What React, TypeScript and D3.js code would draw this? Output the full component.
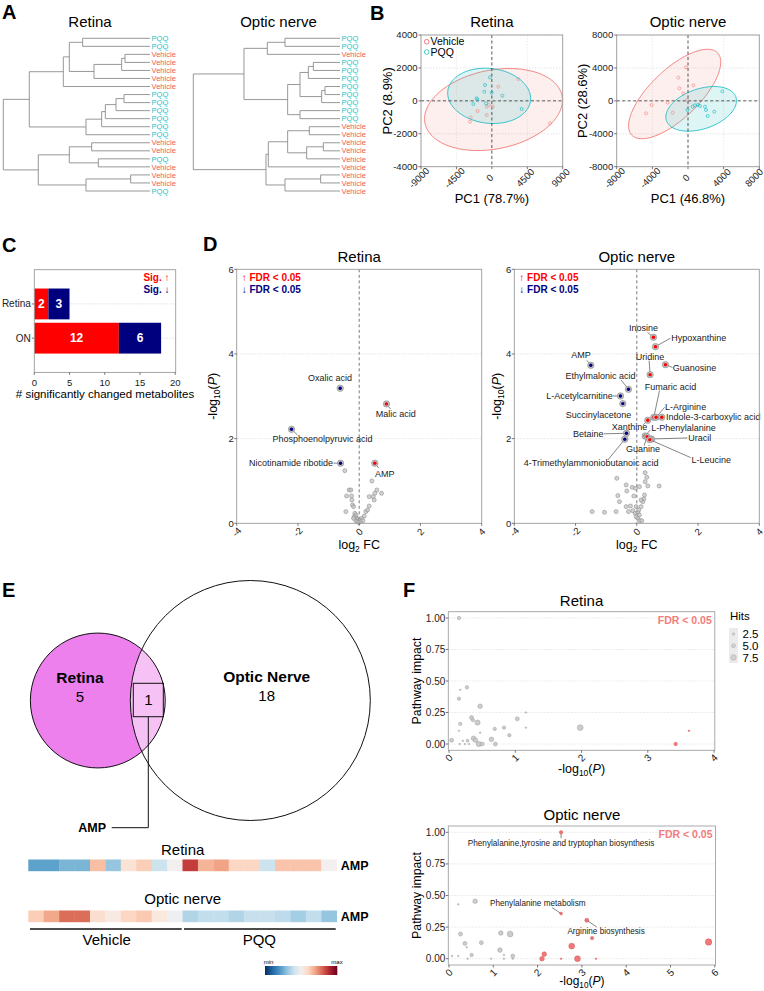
import React from "react";
import * as d3 from "d3";

const FONT = "'Liberation Sans', Arial, Helvetica, sans-serif";
const VEH = "#EE5A5A";
const PQQC = "#1FBFC6";
const UP = "#FF0000";
const DOWN = "#000080";

// ---------------- A: hierarchical clustering ----------------
const retinaLeaves = ["PQQ","PQQ","Vehicle","Vehicle","Vehicle","Vehicle","Vehicle","PQQ","PQQ","PQQ","PQQ","PQQ","PQQ","Vehicle","Vehicle","PQQ","Vehicle","Vehicle","Vehicle","PQQ"];
// [childA, childB, height]  (negative = leaf index+1, positive = merge number)
const retinaMerges = [
  [-3,-4,75],[1,-5,85],[2,-6,168],[-1,-2,202],[4,3,242],[5,-7,260],
  [-8,-9,78],[7,-10,102],[8,-11,134],[9,-12,145],[10,-13,192],[6,11,362],
  [-14,-15,175],[-16,-17,155],[13,14,242],[-18,-19,58],[16,-20,192],[15,17,335],[12,18,440]
];
const opticLeaves = ["PQQ","PQQ","Vehicle","PQQ","PQQ","PQQ","PQQ","PQQ","PQQ","PQQ","PQQ","Vehicle","Vehicle","Vehicle","Vehicle","Vehicle","Vehicle","Vehicle","Vehicle","Vehicle"];
const opticMerges = [
  [-1,-2,165],[1,-3,218],[-4,-5,80],[3,-6,95],[-7,-8,45],[5,-9,55],[4,6,120],
  [-10,-11,120],[7,8,157],[2,9,288],[-12,-13,92],[-14,-15,50],[12,-16,100],
  [11,13,157],[14,-17,215],[-18,-19,58],[16,-20,165],[15,17,222],[10,18,440]
];

// ---------------- B: PCA ----------------
const pcaRetinaVehicle = [[3366,1327],[825,861],[7390,-1366],[-1800,-617],[-657,-354],[-657,-860],[105,-354],[-2690,-1002],[-2775,-1265],[-400,-250]];
const pcaRetinaPQQ = [[-233,1428],[-869,962],[-953,557],[-21,496],[1333,314],[-1928,152],[-1843,90],[-2351,-192],[-742,-151],[3790,-495]];
const pcaOpticVehicle = [[-225,4071],[-1085,2816],[-973,1520],[597,1885],[-524,913],[-2281,-222],[-4075,-505],[-4710,-1518],[-1720,-1437],[-150,100]];
const pcaOpticPQQ = [[3850,1155],[785,-545],[1906,-707],[-63,-1112],[2018,-1112],[2952,-1315],[2205,-1840],[523,-707],[1345,-626],[1100,-500]];
const pcaRetinaEllipses = [
  { group: "Vehicle", cx: 212, cy: -527, a: 8780, b: 2420, angle: 4 },
  { group: "PQQ", cx: -339, cy: 304, a: 5273, b: 1671, angle: -2 },
];
const pcaOpticEllipses = [
  { group: "Vehicle", cx: -1496, cy: 832, a: 6940, b: 2845, angle: 47 },
  { group: "PQQ", cx: 1476, cy: -970, a: 4155, b: 2410, angle: 21.5 },
];
const retinaXTicks = [-9000, -4500, 0, 4500, 9000];
const retinaYTicks = [-4000, -2000, 0, 2000, 4000];
const opticXTicks = [-8000, -4000, 0, 4000, 8000];
const opticYTicks = [-8000, -4000, 0, 4000, 8000];

// ---------------- C: counts ----------------
const cCategories = ["Retina", "ON"];
const cUp = [2, 12];
const cDown = [3, 6];
const cTicks = [0, 5, 10, 15, 20];

// ---------------- D: volcano ----------------
const volRetinaGray = [[-0.468,1.244],[-0.326,0.787],[-0.272,0.787],[-0.413,0.646],[-0.25,0.646],[-0.239,0.551],[-0.218,0.433],[-0.185,0.394],[-0.435,0.276],[-0.141,0.236],[-0.109,0.197],[-0.163,0.157],[-0.076,0.118],[-0.033,0.094],[0.033,0.079],[0.087,0.118],[0.163,0.173],[0.218,0.276],[0.272,0.315],[0.326,0.409],[0.413,1.0],[0.326,0.63],[0.457,0.63],[0.49,0.551],[0.577,0.787],[0.729,0.709],[0.511,0.709],[-0.109,0.063],[-0.054,0.039],[-0.011,0.016],[0.054,0.047],[0.12,0.063],[-0.185,0.118]];
const volRetinaSig = [
  ["Oxalic acid", -0.62, 3.19, "down"],
  ["Malic acid", 0.89, 2.82, "up"],
  ["Phosphoenolpyruvic acid", -2.21, 2.22, "down"],
  ["Nicotinamide ribotide", -0.61, 1.42, "down"],
  ["AMP", 0.51, 1.42, "up"],
];
const volOpticGray = [[-0.653,1.063],[0.272,1.197],[0.326,1.087],[0.272,0.984],[0.359,0.882],[0.729,0.882],[-0.348,0.906],[-0.326,0.764],[-0.152,0.85],[-0.044,0.827],[0.087,0.866],[-0.62,0.654],[-0.098,0.646],[0.25,0.669],[-0.566,0.512],[0.229,0.575],[0.196,0.512],[-0.348,0.394],[-0.207,0.409],[-0.022,0.394],[0.141,0.394],[-1.458,0.276],[-1.055,0.26],[-0.675,0.276],[-0.272,0.276],[-0.131,0.299],[-0.054,0.236],[0.033,0.26],[0.087,0.197],[-0.022,0.157],[0.033,0.118],[0.087,0.063],[0.163,0.063],[0.065,0.315],[0.141,0.551]];
const volOpticSig = [
  ["Inosine", 0.544, 4.394, "up"],
  ["Hypoxanthine", 0.609, 4.173, "up"],
  ["Guanosine", 0.936, 3.748, "up"],
  ["Uridine", 0.435, 3.512, "up"],
  ["Fumaric acid", 0.555, 2.504, "up"],
  ["L-Arginine", 0.631, 2.504, "up"],
  ["Indole-3-carboxylic acid", 0.816, 2.504, "up"],
  ["Xanthine", 0.359, 2.433, "up"],
  ["L-Phenylalanine", 0.272, 2.063, "up"],
  ["Guanine", 0.337, 2.047, "up"],
  ["Uracil", 0.479, 1.992, "up"],
  ["L-Leucine", 0.424, 1.976, "up"],
  ["AMP", -1.502, 3.732, "down"],
  ["Ethylmalonic acid", -0.272, 3.165, "down"],
  ["L-Acetylcarnitine", -0.533, 3.008, "down"],
  ["Succinylacetone", -0.457, 2.827, "down"],
  ["Betaine", -0.337, 2.126, "down"],
  ["4-Trimethylammoniobutanoic acid", -0.392, 1.984, "down"],
];
const volXTicks = [-4, -2, 0, 2, 4];
const volYTicks = [0, 2, 4, 6];
// label placement (px offset of text, anchor, connector end offset)
const retinaLabelLayout: Record<string, any[]> = {
  "Oxalic acid": [-10.3, -10, "middle", null, null],
  "Malic acid": [9.3, 10.3, "middle", 4, 5],
  "Phosphoenolpyruvic acid": [31, 10, "middle", 6, 5.7],
  "Nicotinamide ribotide": [-7.5, 0, "end", -7, 0],
  "AMP": [10, 10.7, "middle", 4, 5],
};
const opticLabelLayout: Record<string, any[]> = {
  "Inosine": [-10, -9.7, "middle", -6, -5],
  "Hypoxanthine": [15.7, -9, "start", 15, -8.5],
  "Guanosine": [7.3, 3, "start", 7, 2.8],
  "Uridine": [0, -17.7, "middle", -1, -14],
  "Fumaric acid": [16.7, -30.3, "middle", 5.7, -26.7],
  "L-Arginine": [9, -10.7, "start", 8.5, -10],
  "Indole-3-carboxylic acid": [4.3, 0, "start", null, null],
  "Xanthine": [-18.3, 6.3, "middle", -5, 5],
  "L-Phenylalanine": [6, -7.7, "start", 5, -6],
  "Guanine": [-4, 12.7, "middle", -3, 9],
  "Uracil": [36.7, -1, "start", 36, -1],
  "L-Leucine": [41.7, 20.7, "start", 41, 18],
  "AMP": [-9.7, -10, "middle", -4, -5],
  "Ethylmalonic acid": [-28, -13.7, "middle", -7.3, -9.3],
  "L-Acetylcarnitine": [-7.7, 0, "end", -7.5, 0],
  "Succinylacetone": [-24.3, 11, "middle", null, null],
  "Betaine": [-23, 0.7, "end", -22.5, 0.5],
  "4-Trimethylammoniobutanoic acid": [-33.7, 24, "middle", -17, 20.7],
};

// ---------------- E: Venn + heatmap ----------------
const vennNames = ["Retina", "Optic Nerve"];
const vennOnly = [5, 18];
const vennShared = 1;
const sharedMetabolite = "AMP";
const heatRetina = [0.23,0.23,0.27,0.27,0.65,0.31,0.57,0.62,0.4,0.5,0.85,0.67,0.7,0.6,0.6,0.4,0.64,0.64,0.64,0.5];
const heatOptic = [0.62,0.69,0.78,0.78,0.58,0.54,0.6,0.63,0.55,0.48,0.35,0.38,0.38,0.35,0.39,0.39,0.37,0.33,0.38,0.31];
const heatGroups = ["Vehicle", "PQQ"];

// ---------------- F: pathway bubbles ----------------
// [ -log10(P), impact, hits, significant ]
const pathRetina = [
  [0.15,1.0,4,0],[0.17,0.43,1,0],[0.27,0.45,4,0],[0.15,0.36,4,0],[0.47,0.30,6,0],[0.34,0.21,5,0],
  [1.03,0.20,5,0],[1.16,0.25,1,0],[0.17,0.16,4,0],[0.43,0.17,7,0],[0.36,0.19,4,0],[1.98,0.13,8,0],
  [0.69,0.12,4,0],[0.83,0.13,4,0],[1.16,0.13,1,0],[0.15,0.105,1,0],[0.47,0.09,1,0],[0.91,0.07,4,0],
  [0.64,0.037,6,0],[0.37,0.045,6,0],[0.40,0.03,6,0],[0.04,0.03,5,0],[0.28,0.026,3,0],[0.45,0.0,7,0],
  [0.50,0.0,5,0],[0.70,0.0,5,0],[0.16,0.0,1,0],[0.21,0.025,1,0],[0.24,0.0,1,0],[0.30,0.0,1,0],
  [3.42,0.0,4,1],[3.62,0.105,1,1],
];
const pathOptic = [
  [0.59,0.455,6,0],[0.21,0.43,1,0],[0.26,0.195,5,0],[1.17,0.203,6,0],[1.38,0.195,8,0],[0.36,0.121,5,0],
  [0.73,0.127,5,0],[0.40,0.09,1,0],[1.15,0.068,6,0],[0.51,0.029,4,0],[1.44,0.021,5,0],[0.07,0.021,1,0],
  [0.21,0.021,1,0],[0.42,0.0,1,0],[0.95,0.0,1,0],[1.24,0.0,1,0],[1.24,0.03,1,0],[1.44,0.0,1,0],
  [2.53,1.0,4,1],[2.53,0.357,3,1],[3.11,0.304,5,1],[3.23,0.163,4,1],[2.77,0.10,8,1],[2.15,0.036,6,1],
  [2.10,0.0,6,1],[2.90,0.0,8,1],[5.86,0.132,9,1],[2.53,0.0,1,1],[3.32,0.0,1,1],
];
const pathOpticLabels = [
  ["Phenylalanine,tyrosine and tryptophan biosynthesis", 2.53, 1.0],
  ["Phenylalanine metabolism", 2.53, 0.357],
  ["Arginine biosynthesis", 3.11, 0.304],
];
const pathLabelLayout: Record<string, any[]> = {
  "Phenylalanine,tyrosine and tryptophan biosynthesis": [0, 10.7, 0, 6],
  "Phenylalanine metabolism": [-23.3, -10, -9, -6],
  "Arginine biosynthesis": [19.3, 10.7, 10, 6.7],
};
const impactTicks = [0, 0.25, 0.5, 0.75, 1];
const hitsLegend = [2.5, 5.0, 7.5];

const rScale = d3.scaleLinear().domain([0, 15]).range([0.5, 5]);

// ---------------- helpers ----------------
function PanelLabel({ x, y, t }: any) {
  return <text x={x} y={y} fontSize={20} fontWeight="bold">{t}</text>;
}

function Dendrogram({ title, titleX, leaves, merges, leafX, rootX }: any) {
  const y = d3.scaleLinear().domain([0, leaves.length - 1]).range([38.3, 191]);
  const maxH = d3.max(merges, (m: any) => m[2]) as number;
  const x = d3.scaleLinear().domain([0, maxH]).range([leafX, rootX]);
  const nodes: { x: number; y: number }[] = [];
  const pos = (id: number) => (id < 0 ? { x: leafX, y: y(-id - 1) } : nodes[id - 1]);
  const paths: string[] = [];
  merges.forEach(([a, b, h]: number[]) => {
    const A = pos(a), B = pos(b), nx = x(h);
    nodes.push({ x: nx, y: (A.y + B.y) / 2 });
    paths.push(`M${A.x},${A.y}H${nx}V${B.y}H${B.x}`);
  });
  return (
    <g>
      <text x={titleX} y={27} fontSize={15} textAnchor="middle">{title}</text>
      {paths.map((d, i) => <path key={i} d={d} fill="none" stroke="#8c8c8c" strokeWidth={0.9} />)}
      {leaves.map((l: string, i: number) => (
        <text key={i} x={leafX + 1.5} y={y(i)} dy="0.35em" fontSize={7.6} fill={l === "PQQ" ? PQQC : VEH}>{l}</text>
      ))}
    </g>
  );
}

function ellipsePath(e: any, xs: any, ys: any) {
  const th = (e.angle * Math.PI) / 180;
  const pts = d3.range(0, 361, 3).map((deg) => {
    const t = (deg * Math.PI) / 180;
    const dx = e.a * Math.cos(t), dy = e.b * Math.sin(t);
    return [xs(e.cx + dx * Math.cos(th) - dy * Math.sin(th)), ys(e.cy + dx * Math.sin(th) + dy * Math.cos(th))] as [number, number];
  });
  return (d3.line()(pts) || "") + "Z";
}

function PCA({ id, title, left, right, top, bottom, xTicks, yTicks, veh, pqq, ellipses, ylab, ylabX, xlab, legend }: any) {
  const xs = d3.scaleLinear().domain([xTicks[0], xTicks[xTicks.length - 1]]).range([left, right]);
  const ys = d3.scaleLinear().domain([yTicks[0], yTicks[yTicks.length - 1]]).range([bottom, top]);
  const cx = (left + right) / 2, cy = (top + bottom) / 2;
  return (
    <g>
      <defs>
        <clipPath id={id}><rect x={left} y={top} width={right - left} height={bottom - top} /></clipPath>
      </defs>
      <text x={cx} y={27} fontSize={15} textAnchor="middle">{title}</text>
      {yTicks.map((t: number) => <line key={"gy" + t} x1={left} x2={right} y1={ys(t)} y2={ys(t)} stroke="#d8d8d8" strokeWidth={0.7} strokeDasharray="1.5,1.5" />)}
      {xTicks.map((t: number) => <line key={"gx" + t} y1={top} y2={bottom} x1={xs(t)} x2={xs(t)} stroke="#e2e2e2" strokeWidth={0.7} strokeDasharray="1.5,1.5" />)}
      <g clipPath={`url(#${id})`}>
        {ellipses.map((e: any, i: number) => (
          <path key={i} d={ellipsePath(e, xs, ys)}
            fill={e.group === "PQQ" ? "#3CC6CC" : "#F28C86"} fillOpacity={e.group === "PQQ" ? 0.17 : 0.14}
            stroke={e.group === "PQQ" ? PQQC : "#F07B76"} strokeWidth={0.9} />
        ))}
      </g>
      <line x1={xs(0)} x2={xs(0)} y1={top} y2={bottom} stroke="#333" strokeWidth={0.8} strokeDasharray="3,2.5" />
      <line y1={ys(0)} y2={ys(0)} x1={left} x2={right} stroke="#333" strokeWidth={0.8} strokeDasharray="3,2.5" />
      {veh.map((p: number[], i: number) => <circle key={"v" + i} cx={xs(p[0])} cy={ys(p[1])} r={1.5} fill="none" stroke="#F08C88" strokeWidth={0.7} />)}
      {pqq.map((p: number[], i: number) => <circle key={"q" + i} cx={xs(p[0])} cy={ys(p[1])} r={1.5} fill="none" stroke={PQQC} strokeWidth={0.7} />)}
      <rect x={left} y={top} width={right - left} height={bottom - top} fill="none" stroke="#9a9a9a" strokeWidth={0.9} />
      {yTicks.map((t: number) => (
        <g key={"yt" + t}>
          <line x1={left - 2.5} x2={left} y1={ys(t)} y2={ys(t)} stroke="#555" strokeWidth={0.8} />
          <text x={left - 3.5} y={ys(t)} dy="0.35em" fontSize={9.5} textAnchor="end" fill="#222">{t}</text>
        </g>
      ))}
      {xTicks.map((t: number) => (
        <g key={"xt" + t}>
          <line x1={xs(t)} x2={xs(t)} y1={bottom} y2={bottom + 2.5} stroke="#555" strokeWidth={0.8} />
          <text transform={`translate(${Math.min(xs(t) - 2, 754)},${bottom + 11}) rotate(-45)`} dy="0.35em" fontSize={9.5} textAnchor="middle" fill="#222">{t}</text>
        </g>
      ))}
      <text transform={`translate(${ylabX},${cy}) rotate(-90)`} fontSize={13} textAnchor="middle" dy="0.35em">{ylab}</text>
      <text x={cx} y={203} fontSize={13} textAnchor="middle">{xlab}</text>
      {legend && (
        <g>
          <circle cx={left + 5.7} cy={top + 6.7} r={2.3} fill="none" stroke={VEH} strokeWidth={0.8} />
          <text x={left + 9.5} y={top + 6.7} dy="0.35em" fontSize={10.5}>Vehicle</text>
          <circle cx={left + 5.7} cy={top + 17} r={2.3} fill="none" stroke={PQQC} strokeWidth={0.8} />
          <text x={left + 9.5} y={top + 17} dy="0.35em" fontSize={10.5}>PQQ</text>
        </g>
      )}
    </g>
  );
}

function CountBars() {
  const left = 34.3, right = 175.7, top = 269.7, bottom = 372.4;
  const xs = d3.scaleLinear().domain([0, 20]).range([left, 175.2]);
  const ys = d3.scaleBand().domain(cCategories).range([top, bottom]).paddingInner(0.1).paddingOuter(0.55);
  const bw = ys.bandwidth();
  return (
    <g>
      {cCategories.map((c) => (
        <line key={"g" + c} x1={left} x2={right} y1={(ys(c) as number) + bw / 2} y2={(ys(c) as number) + bw / 2} stroke="#d0d0d0" strokeWidth={0.7} strokeDasharray="1.5,1.5" />
      ))}
      {cCategories.map((c, i) => {
        const y0 = ys(c) as number;
        return (
          <g key={c}>
            <rect x={xs(0)} y={y0} width={xs(cUp[i]) - xs(0)} height={bw} fill="#FF0000" />
            <rect x={xs(cUp[i])} y={y0} width={xs(cUp[i] + cDown[i]) - xs(cUp[i])} height={bw} fill="#00007F" />
            <text x={(xs(0) + xs(cUp[i])) / 2} y={y0 + bw / 2} dy="0.36em" fill="#fff" fontWeight="bold" fontSize={12} textAnchor="middle">{cUp[i]}</text>
            <text x={(xs(cUp[i]) + xs(cUp[i] + cDown[i])) / 2} y={y0 + bw / 2} dy="0.36em" fill="#fff" fontWeight="bold" fontSize={12} textAnchor="middle">{cDown[i]}</text>
            <line x1={left - 2.5} x2={left} y1={y0 + bw / 2} y2={y0 + bw / 2} stroke="#555" strokeWidth={0.8} />
            <text x={left - 3.5} y={y0 + bw / 2} dy="0.35em" fontSize={10} textAnchor="end" fill="#222">{c}</text>
          </g>
        );
      })}
      <rect x={left} y={top} width={right - left} height={bottom - top} fill="none" stroke="#9a9a9a" strokeWidth={0.9} />
      <text x={169.5} y={277.3} dy="0.35em" fontSize={10} fontWeight="bold" fill="#FF0000" textAnchor="end">Sig. ↑</text>
      <text x={169.5} y={289.3} dy="0.35em" fontSize={10} fontWeight="bold" fill="#00007F" textAnchor="end">Sig. ↓</text>
      {cTicks.map((t) => (
        <g key={t}>
          <line x1={xs(t)} x2={xs(t)} y1={bottom} y2={bottom + 2.5} stroke="#555" strokeWidth={0.8} />
          <text x={xs(t)} y={bottom + 10} dy="0.35em" fontSize={9.5} textAnchor="middle" fill="#222">{t}</text>
        </g>
      ))}
      <text x={(left + right) / 2} y={bottom + 26} fontSize={11.5} textAnchor="middle"># significantly changed metabolites</text>
    </g>
  );
}

function Volcano({ title, left, right, top, bottom, gray, sig, layout, ylabX }: any) {
  const xs = d3.scaleLinear().domain([volXTicks[0], volXTicks[volXTicks.length - 1]]).range([left, right]);
  const ys = d3.scaleLinear().domain([0, 6]).range([bottom, top]);
  const cx = (left + right) / 2, cy = (top + bottom) / 2;
  return (
    <g>
      <text x={cx} y={262} fontSize={15} textAnchor="middle">{title}</text>
      {[2, 4].map((t) => <line key={t} x1={left} x2={right} y1={ys(t)} y2={ys(t)} stroke="#d8d8d8" strokeWidth={0.7} strokeDasharray="1.5,1.5" />)}
      <line x1={xs(0)} x2={xs(0)} y1={top} y2={bottom} stroke="#555" strokeWidth={0.8} strokeDasharray="3,2.5" />
      {gray.map((p: number[], i: number) => (
        <circle key={i} cx={xs(p[0])} cy={ys(p[1])} r={2} fill="#c4c4c4" fillOpacity={0.75} stroke="#8f8f8f" strokeWidth={0.6} />
      ))}
      {sig.map((s: any[]) => {
        const [name, fc, p, dir] = s;
        const px = xs(fc), py = ys(p);
        const L = layout[name];
        return (
          <g key={name}>
            {L[3] !== null && <line x1={px} y1={py} x2={px + L[3]} y2={py + L[4]} stroke="#333" strokeWidth={0.6} />}
            <circle cx={px} cy={py} r={3.2} fill="#c0c0c0" stroke="#8a8a8a" strokeWidth={0.6} />
            <circle cx={px} cy={py} r={1.7} fill={dir === "up" ? UP : DOWN} />
            <text x={px + L[0]} y={py + L[1]} dy="0.35em" fontSize={9} textAnchor={L[2]} fill="#222">{name}</text>
          </g>
        );
      })}
      <rect x={left} y={top} width={right - left} height={bottom - top} fill="none" stroke="#9a9a9a" strokeWidth={0.9} />
      <text x={left + 5} y={top + 8.5} dy="0.35em" fontSize={10} fontWeight="bold" fill={UP}>↑ FDR &lt; 0.05</text>
      <text x={left + 5} y={top + 20} dy="0.35em" fontSize={10} fontWeight="bold" fill={DOWN}>↓ FDR &lt; 0.05</text>
      {volYTicks.map((t) => (
        <g key={t}>
          <line x1={left - 2.5} x2={left} y1={ys(t)} y2={ys(t)} stroke="#555" strokeWidth={0.8} />
          <text x={left - 3} y={ys(t)} dy="0.35em" fontSize={9.5} textAnchor="end" fill="#222">{t}</text>
        </g>
      ))}
      {volXTicks.map((t) => (
        <g key={t}>
          <line x1={xs(t)} x2={xs(t)} y1={bottom} y2={bottom + 2.5} stroke="#555" strokeWidth={0.8} />
          <text transform={`translate(${xs(t)},${bottom + 8.5}) rotate(-45)`} dy="0.35em" fontSize={9.5} textAnchor="middle" fill="#222">{t}</text>
        </g>
      ))}
      <text x={cx} y={549} fontSize={12.5} textAnchor="middle">
        log<tspan fontSize={8.5} dy={3}>2</tspan><tspan dy={-3}> FC</tspan>
      </text>
      <text transform={`translate(${ylabX},${cy}) rotate(-90)`} fontSize={12.5} textAnchor="middle" dy="0.35em">
        -log<tspan fontSize={8.5} dy={3}>10</tspan><tspan dy={-3}>(</tspan><tspan fontStyle="italic">P</tspan>)
      </text>
    </g>
  );
}

function Venn() {
  const r = d3.scaleSqrt().domain([0, 19]).range([0, 120]);
  const rA = r(vennOnly[0] + vennShared), rB = r(vennOnly[1] + vennShared);
  const ay = 700.5, ax = 97.8, bx = 250.3;
  const boxX = 133.3, boxY = 683.3, boxW = 30, boxH = 33.4;
  const mid = boxX + boxW / 2;
  return (
    <g>
      <defs>
        <clipPath id="vennB"><circle cx={bx} cy={ay} r={rB} /></clipPath>
      </defs>
      <circle cx={ax} cy={ay} r={rA} fill="#EE80EE" />
      <circle cx={ax} cy={ay} r={rA} fill="#F6C2F6" clipPath="url(#vennB)" />
      <circle cx={bx} cy={ay} r={rB} fill="none" stroke="#111" strokeWidth={1} />
      <circle cx={ax} cy={ay} r={rA} fill="none" stroke="#111" strokeWidth={1} />
      <text x={80} y={683} fontSize={15.5} fontWeight="bold" textAnchor="middle">{vennNames[0]}</text>
      <text x={80} y={702} fontSize={15} textAnchor="middle">{vennOnly[0]}</text>
      <text x={266.7} y={682} fontSize={15.5} fontWeight="bold" textAnchor="middle">{vennNames[1]}</text>
      <text x={266.7} y={701} fontSize={15} textAnchor="middle">{vennOnly[1]}</text>
      <rect x={boxX} y={boxY} width={boxW} height={boxH} fill="none" stroke="#111" strokeWidth={1} />
      <text x={mid} y={boxY + boxH / 2} dy="0.36em" fontSize={15} textAnchor="middle">{vennShared}</text>
      <path d={`M${mid},${boxY + boxH}V827.7H111.7`} fill="none" stroke="#111" strokeWidth={1} />
      <text x={106} y={827.7} dy="0.36em" fontSize={12.5} fontWeight="bold" textAnchor="end">{sharedMetabolite}</text>
    </g>
  );
}

function Heatmaps() {
  const n = heatRetina.length;
  const xs = d3.scaleBand().domain(d3.range(n).map(String)).range([28.3, 336.7]);
  const color = (v: number) => d3.interpolateRdBu(1 - v);
  const rows = [
    { title: "Retina", vals: heatRetina, y: 859.5, ty: 855 },
    { title: "Optic nerve", vals: heatOptic, y: 910.5, ty: 904 },
  ];
  const stops = d3.range(0, 1.001, 0.1);
  return (
    <g>
      <defs>
        <linearGradient id="rdbu" x1="0" x2="1" y1="0" y2="0">
          {stops.map((s) => <stop key={s} offset={s} stopColor={color(s)} />)}
        </linearGradient>
      </defs>
      {rows.map((row) => (
        <g key={row.title}>
          <text x={182.7} y={row.ty} fontSize={15} textAnchor="middle">{row.title}</text>
          {row.vals.map((v, i) => (
            <rect key={i} x={xs(String(i)) as number} y={row.y} width={xs.bandwidth() + 0.3} height={11.7} fill={color(v)} />
          ))}
          <text x={340.7} y={row.y + 6} dy="0.36em" fontSize={12.5} fontWeight="bold">AMP</text>
        </g>
      ))}
      <line x1={30} x2={181.7} y1={929} y2={929} stroke="#111" strokeWidth={1.5} />
      <line x1={184} x2={335.7} y1={929} y2={929} stroke="#111" strokeWidth={1.5} />
      <text x={106.7} y={944.5} fontSize={15} textAnchor="middle">{heatGroups[0]}</text>
      <text x={259.3} y={944.5} fontSize={15} textAnchor="middle">{heatGroups[1]}</text>
      <rect x={265} y={966} width={72.3} height={9} fill="url(#rdbu)" />
      <text x={268.5} y={964} fontSize={6} textAnchor="middle">min</text>
      <text x={337} y={964} fontSize={6} textAnchor="middle">max</text>
    </g>
  );
}

function Bubble({ title, titleY, left, right, top, bottom, xTicks, data, labels, legend, xlabY, xlabSize }: any) {
  const xs = d3.scaleLinear().domain([xTicks[0], xTicks[xTicks.length - 1]]).range([left + 0.7, right - 0.7]);
  const ys = d3.scaleLinear().domain([-0.05, 1.05]).range([bottom, top]);
  const cy = (top + bottom) / 2;
  const sorted = [...data].sort((a: any, b: any) => b[2] - a[2]);
  return (
    <g>
      <text x={(left + right) / 2} y={titleY} fontSize={15} textAnchor="middle">{title}</text>
      {impactTicks.map((t) => <line key={t} x1={left} x2={right} y1={ys(t)} y2={ys(t)} stroke="#dcdcdc" strokeWidth={0.7} strokeDasharray="1.5,1.5" />)}
      {labels && labels.map((l: any[]) => {
        const L = pathLabelLayout[l[0]];
        const px = xs(l[1]), py = ys(l[2]);
        return (
          <g key={l[0]}>
            <line x1={px} y1={py} x2={px + L[2]} y2={py + L[3]} stroke="#333" strokeWidth={0.6} />
            <text x={px + L[0]} y={py + L[1]} dy="0.35em" fontSize={8.2} textAnchor="middle" fill="#222">{l[0]}</text>
          </g>
        );
      })}
      {sorted.map((d: any, i: number) => (
        <circle key={i} cx={xs(d[0])} cy={ys(d[1])} r={rScale(d[2])}
          fill={d[3] ? "#F06A6A" : "#c6c6c6"} fillOpacity={0.9}
          stroke={d[3] ? "#D55050" : "#9e9e9e"} strokeWidth={0.5} />
      ))}
      <rect x={left} y={top} width={right - left} height={bottom - top} fill="none" stroke="#a0a0a0" strokeWidth={0.9} />
      <text x={right - 3} y={top + 8.5} dy="0.35em" fontSize={10.5} fontWeight="bold" fill="#F47C7C" textAnchor="end">FDR &lt; 0.05</text>
      {impactTicks.map((t) => (
        <g key={t}>
          <line x1={left - 2.5} x2={left} y1={ys(t)} y2={ys(t)} stroke="#555" strokeWidth={0.8} />
          <text x={left - 3} y={ys(t)} dy="0.35em" fontSize={10} textAnchor="end" fill="#222">{d3.format(".2f")(t)}</text>
        </g>
      ))}
      {xTicks.map((t: number) => (
        <g key={t}>
          <line x1={xs(t)} x2={xs(t)} y1={bottom} y2={bottom + 2.5} stroke="#555" strokeWidth={0.8} />
          <text transform={`translate(${xs(t)},${bottom + 7.5}) rotate(-45)`} dy="0.35em" fontSize={10} textAnchor="middle" fill="#222">{t}</text>
        </g>
      ))}
      <text x={(left + right) / 2} y={xlabY} fontSize={xlabSize} textAnchor="middle">
        -log<tspan fontSize={xlabSize * 0.68} dy={3}>10</tspan><tspan dy={-3}>(</tspan><tspan fontStyle="italic">P</tspan>)
      </text>
      <text transform={`translate(416.7,${cy}) rotate(-90)`} fontSize={12.3} textAnchor="middle" dy="0.35em">Pathway impact</text>
      {legend && (
        <g>
          <text x={730} y={620} fontSize={11.5}>Hits</text>
          <rect x={729} y={628} width={9} height={35} fill="#ebebeb" />
          {hitsLegend.map((h, i) => (
            <g key={h}>
              <circle cx={733.5} cy={634 + i * 11.7} r={rScale(h)} fill="#d2d2d2" stroke="#a8a8a8" strokeWidth={0.5} />
              <text x={742.5} y={634 + i * 11.7} dy="0.36em" fontSize={11.5}>{d3.format(".1f")(h)}</text>
            </g>
          ))}
        </g>
      )}
    </g>
  );
}

export default function App() {
  return (
    <svg width={764} height={991} viewBox="0 0 764 991" fontFamily={FONT}
      style={{ position: "absolute", left: 0, top: 0, background: "#fff" }}>
      <rect width={764} height={991} fill="#fff" />
      <PanelLabel x={2} y={18.5} t="A" />
      <PanelLabel x={370} y={20} t="B" />
      <PanelLabel x={2} y={252} t="C" />
      <PanelLabel x={203} y={251} t="D" />
      <PanelLabel x={2} y={597} t="E" />
      <PanelLabel x={403} y={597} t="F" />

      <Dendrogram title="Retina" titleX={90} leaves={retinaLeaves} merges={retinaMerges} leafX={150} rootX={3.3} />
      <Dendrogram title="Optic nerve" titleX={278.5} leaves={opticLeaves} merges={opticMerges} leafX={340} rootX={193.3} />

      <PCA id="pcaR" title="Retina" left={421} right={562.7} top={35} bottom={166.7}
        xTicks={retinaXTicks} yTicks={retinaYTicks} veh={pcaRetinaVehicle} pqq={pcaRetinaPQQ}
        ellipses={pcaRetinaEllipses} ylab="PC2 (8.9%)" ylabX={387} xlab="PC1 (78.7%)" legend />
      <PCA id="pcaO" title="Optic nerve" left={616.7} right={759.3} top={35} bottom={166.7}
        xTicks={opticXTicks} yTicks={opticYTicks} veh={pcaOpticVehicle} pqq={pcaOpticPQQ}
        ellipses={pcaOpticEllipses} ylab="PC2 (28.6%)" ylabX={582} xlab="PC1 (46.8%)" legend={false} />

      <CountBars />

      <Volcano title="Retina" left={236.7} right={481.7} top={269.3} bottom={523.3}
        gray={volRetinaGray} sig={volRetinaSig} layout={retinaLabelLayout} ylabX={213} />
      <Volcano title="Optic nerve" left={514.3} right={759.3} top={269.3} bottom={523.3}
        gray={volOpticGray} sig={volOpticSig} layout={opticLabelLayout} ylabX={496.7} />

      <Venn />
      <Heatmaps />

      <Bubble title="Retina" titleY={606} left={448.3} right={714.8} top={611.7} bottom={750.3}
        xTicks={[0, 1, 2, 3, 4]} data={pathRetina} labels={null} legend xlabY={773} xlabSize={12.5} />
      <Bubble title="Optic nerve" titleY={820} left={448.3} right={715.5} top={826} bottom={965}
        xTicks={[0, 1, 2, 3, 4, 5, 6]} data={pathOptic} labels={pathOpticLabels} legend={false} xlabY={985} xlabSize={12} />
    </svg>
  );
}
